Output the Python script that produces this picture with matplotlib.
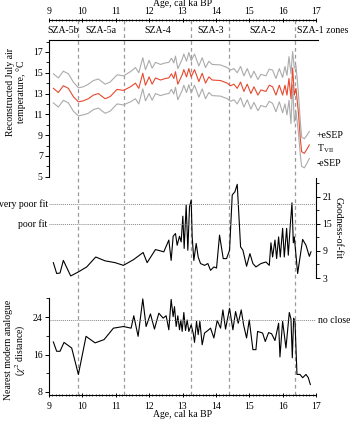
import matplotlib
matplotlib.use('Agg')
import matplotlib.pyplot as plt
from matplotlib.ticker import MultipleLocator
import numpy as np

plt.rcParams['font.family'] = ['Liberation Serif', 'DejaVu Serif']
plt.rcParams['mathtext.fontset'] = 'stix'
plt.rcParams['font.size'] = 7

# zone boundaries (ka BP) and names
zone_edges = [9.86, 11.26, 13.26, 14.40, 16.37]
zone_names = ['SZA-5b', 'SZA-5a', 'SZA-4', 'SZA-3', 'SZA-2']
zone_centres = [9.43, 10.56, 12.26, 13.83, 15.39]

# reconstructed July temperature
t_age = [9.13, 9.28, 9.43, 9.58, 9.73, 9.88, 10.03, 10.18, 10.33, 10.48, 10.68, 10.83,
         11.04, 11.23, 11.44, 11.59, 11.69, 11.81, 11.89, 12.0, 12.09, 12.19, 12.34,
         12.49, 12.59, 12.67, 12.74, 12.79, 12.86, 12.99, 13.04, 13.12, 13.19, 13.26,
         13.36, 13.49, 13.59, 13.69, 13.79, 13.89, 14.14, 14.34, 14.44, 14.54, 14.64,
         14.74, 14.84, 14.94, 15.05, 15.14, 15.26, 15.35, 15.5, 15.6, 15.7, 15.8, 15.9,
         16.0, 16.07, 16.13, 16.19, 16.25, 16.3, 16.35, 16.4, 16.47, 16.53, 16.57,
         16.65, 16.73, 16.8]
t_vii = [13.5, 13.1, 13.75, 13.5, 12.7, 12.2, 12.3, 12.5, 12.85, 13.0, 12.5, 12.7,
         13.4, 13.3, 13.65, 14.0, 13.5, 14.95, 13.8, 14.6, 13.9, 14.5, 14.3,
         14.45, 14.5, 14.9, 14.45, 15.1, 13.9, 14.8, 15.3, 14.6, 15.4, 14.6,
         15.3, 14.15, 14.95, 14.0, 14.6, 14.3, 14.25, 14.0, 13.75, 13.9, 13.5,
         14.1, 13.2, 13.9, 13.0, 13.65, 12.85, 13.35, 13.2, 13.8, 13.65, 12.85, 13.8,
         12.85, 13.8, 12.85, 14.45, 12.5, 15.45, 12.85, 13.5, 11.25, 8.7, 7.4,
         7.25, 7.65, 8.05]
esep = [1.4, 1.4, 1.4, 1.4, 1.4, 1.35, 1.35, 1.4, 1.4, 1.4, 1.4, 1.4,
        1.4, 1.4, 1.45, 1.5, 1.5, 1.5, 1.5, 1.6, 1.55, 1.5, 1.5,
        1.5, 1.5, 1.5, 1.5, 1.5, 1.5, 1.5, 1.5, 1.5, 1.55, 1.55,
        1.5, 1.5, 1.5, 1.5, 1.5, 1.5, 1.5, 1.5, 1.5, 1.5, 1.5,
        1.5, 1.5, 1.5, 1.5, 1.5, 1.5, 1.5, 1.5, 1.55, 1.6, 1.6, 1.6,
        1.7, 1.8, 1.9, 2.1, 2.4, 1.6, 2.6, 2.2, 1.9, 1.6, 1.4,
        1.4, 1.35, 1.3]

# goodness-of-fit
g_age = [9.13, 9.23, 9.33, 9.43, 9.65, 9.88, 10.13, 10.4, 10.68, 10.98, 11.23, 11.54,
         11.82, 11.94, 12.19, 12.44, 12.59, 12.66, 12.72, 12.79, 12.84, 12.91, 12.96,
         13.01, 13.05, 13.11, 13.16, 13.21, 13.26, 13.29, 13.34, 13.41, 13.47, 13.54,
         13.66, 13.76, 13.84, 13.94, 14.02, 14.11, 14.22, 14.32, 14.41, 14.49, 14.57,
         14.64, 14.74, 14.81, 14.92, 15.02, 15.11, 15.2, 15.35, 15.5, 15.6, 15.65,
         15.7, 15.77, 15.82, 15.88, 15.93, 16.0, 16.05, 16.12, 16.17, 16.23, 16.28,
         16.32, 16.35, 16.45, 16.6, 16.7, 16.8, 16.85]
gof = [6.4, 4.0, 4.1, 6.9, 3.45, 4.35, 5.45, 7.65, 6.8, 6.4, 5.8, 7.1,
       8.65, 6.4, 9.3, 8.8, 11.4, 6.9, 12.25, 12.85, 10.25, 12.25, 11.0,
       16.7, 9.55, 19.15, 9.15, 18.8, 20.25, 12.1, 6.9, 10.65, 7.65, 6.2,
       5.8, 6.2, 4.7, 5.45, 5.2, 12.5, 7.3, 7.3, 9.15, 21.4, 22.1,
       23.75, 9.9, 9.15, 5.6, 8.4, 6.2, 5.45, 6.2, 6.55, 5.8, 10.8,
       7.65, 11.4, 7.3, 12.1, 7.65, 14.0, 7.65, 14.0, 8.05, 14.7, 19.65,
       10.8, 12.1, 4.0, 11.55, 10.25, 7.8, 8.8]
poor_fit = 15.0
very_poor_fit = 19.4

# nearest modern analogue
n_age = [9.13, 9.23, 9.33, 9.45, 9.68, 9.88, 10.11, 10.38, 10.65, 10.93, 11.23, 11.46,
         11.54, 11.67, 11.81, 11.91, 12.04, 12.16, 12.29, 12.42, 12.51, 12.59, 12.66,
         12.72, 12.76, 12.81, 12.86, 12.91, 12.95, 12.99, 13.04, 13.09, 13.14, 13.19,
         13.26, 13.32, 13.36, 13.42, 13.47, 13.52, 13.59, 13.66, 13.76, 13.84, 13.94,
         14.04, 14.14, 14.21, 14.29, 14.41, 14.51, 14.59, 14.67, 14.76, 14.83, 14.92,
         15.0, 15.11, 15.2, 15.25, 15.4, 15.48, 15.58, 15.67, 15.77, 15.88, 15.92,
         16.0, 16.1, 16.2, 16.25, 16.29, 16.33, 16.37, 16.43, 16.52, 16.6, 16.7,
         16.77, 16.83]
nma = [18.7, 16.7, 16.7, 18.6, 17.4, 11.75, 19.9, 18.5, 19.2, 21.65, 22.0, 21.65,
       24.3, 19.9, 27.9, 22.0, 24.7, 21.45, 24.85, 23.8, 24.3, 21.3, 27.8,
       24.1, 26.25, 22.0, 24.3, 21.3, 23.4, 20.95, 25.0, 21.15, 23.4, 20.95,
       22.35, 20.6, 18.6, 23.1, 20.25, 23.1, 18.1, 20.6, 21.15, 21.65, 19.55,
       23.3, 21.65, 25.55, 21.45, 25.9, 21.3, 25.2, 22.7, 25.55, 22.35, 19.55,
       23.4, 17.05, 17.05, 20.95, 20.6, 18.8, 20.7, 20.45, 19.0, 22.7, 15.5,
       23.1, 17.4, 25.0, 23.6, 15.3, 23.8, 23.1, 11.75, 11.75, 11.05, 11.75,
       11.05, 9.6]
no_close = 23.35

W, H = 350, 423
fig = plt.figure(figsize=(W / 100, H / 100), dpi=100)

def box(top_px, bot_px, left_px=49, right_px=316):
    return [left_px / W, 1 - bot_px / H, (right_px - left_px) / W, (bot_px - top_px) / H]

xlim = (9, 17)
fs = 7

# dashed zone boundaries across the whole figure
axz = fig.add_axes(box(20, 395), zorder=0)
axz.set_xlim(*xlim)
axz.axis('off')
for e in zone_edges:
    axz.axvline(e, color='#9a9a9a', lw=0.9, ls=(0, (3, 2.5)))

red = '#e8492f'
grey = '#ababab'

# top panel: temperature
ax1 = fig.add_axes(box(40, 177))
ax1.patch.set_alpha(0)
ta = np.array(t_age)
tv = np.array(t_vii)
es = np.array(esep)
ax1.plot(ta, tv + es, color=grey, lw=0.8)
ax1.plot(ta, tv - es, color=grey, lw=0.8)
ax1.plot(ta, tv, color=red, lw=0.8)
ax1.set_xlim(*xlim)
ax1.set_ylim(4.97, 18.15)
for s in ['right', 'bottom']:
    ax1.spines[s].set_visible(False)
ax1.spines['top'].set_bounds(9, 17.05)
ax1.set_xticks([])
ax1.set_yticks([5, 7, 9, 11, 13, 15, 17])
ax1.yaxis.set_minor_locator(MultipleLocator(1))
ax1.tick_params(axis='y', which='major', length=3, width=0.7, pad=1.5, labelsize=fs)
ax1.tick_params(axis='y', which='minor', length=2, width=0.6)
for n, c in zip(zone_names, zone_centres):
    ax1.text(c, 1.07, n, transform=ax1.get_xaxis_transform(), ha='center', va='center', fontsize=fs)
ax1.text(16.42, 1.07, 'SZA-1 zones', transform=ax1.get_xaxis_transform(), ha='left', va='center', fontsize=fs)
ax1.text(17.03, 9.0, '+eSEP', ha='left', va='center', fontsize=fs)
ax1.text(17.03, 7.65, r'T$_{\mathregular{VII}}$', ha='left', va='center', fontsize=fs)
ax1.text(17.03, 6.3, '-eSEP', ha='left', va='center', fontsize=fs)
fig.text(16 / W, 1 - 92 / H, 'Reconstructed July air\ntemperature, \u00b0C', rotation=90,
         ha='center', va='center', fontsize=fs, linespacing=1.05)

# top age axis
axt = fig.add_axes([49 / W, 1 - 20 / H, 267 / W, 0.001])
axt.patch.set_alpha(0)
axt.set_xlim(*xlim)
axt.set_yticks([])
for s in ['left', 'right', 'bottom']:
    axt.spines[s].set_visible(False)
axt.xaxis.tick_top()
axt.xaxis.set_label_position('top')
axt.set_xticks(range(9, 18))
axt.xaxis.set_minor_locator(MultipleLocator(0.1))
axt.tick_params(axis='x', which='major', direction='inout', length=3, width=0.7, pad=1, labelsize=fs)
axt.tick_params(axis='x', which='minor', direction='inout', length=2, width=0.5)
axt.set_xlabel('Age, cal ka BP', fontsize=fs, labelpad=0.5)

# middle panel: goodness of fit
ax2 = fig.add_axes(box(178, 278))
ax2.patch.set_alpha(0)
ax2.plot(g_age, gof, color='black', lw=0.8)
ax2.axhline(poor_fit, color='#888888', lw=0.7, ls=(0, (1, 1)))
ax2.axhline(very_poor_fit, color='#888888', lw=0.7, ls=(0, (1, 1)))
ax2.set_xlim(*xlim)
ax2.set_ylim(3, 25.15)
for s in ['left', 'top', 'bottom']:
    ax2.spines[s].set_visible(False)
ax2.set_xticks([])
ax2.yaxis.tick_right()
ax2.set_yticks([3, 9, 15, 21])
ax2.yaxis.set_minor_locator(MultipleLocator(3))
ax2.tick_params(axis='y', which='major', length=3, width=0.7, pad=1.5, labelsize=fs)
ax2.tick_params(axis='y', which='minor', length=2, width=0.6)
ax2.text(-0.005, very_poor_fit, 'very poor fit', transform=ax2.get_yaxis_transform(),
         ha='right', va='center', fontsize=fs)
ax2.text(-0.005, poor_fit, 'poor fit', transform=ax2.get_yaxis_transform(),
         ha='right', va='center', fontsize=fs)
ax2.yaxis.set_label_position('right')
ax2.set_ylabel('Goodness-of-fit', rotation=-90, fontsize=fs, labelpad=8)

# bottom panel: nearest modern analogue
ax3 = fig.add_axes(box(298, 395))
ax3.patch.set_alpha(0)
ax3.plot(n_age, nma, color='black', lw=0.8)
ax3.axhline(no_close, color='#888888', lw=0.7, ls=(0, (1, 1)))
ax3.set_xlim(*xlim)
ax3.set_ylim(7.35, 28.1)
for s in ['right', 'top']:
    ax3.spines[s].set_visible(False)
ax3.set_yticks([8, 16, 24])
ax3.yaxis.set_minor_locator(MultipleLocator(4))
ax3.set_xticks(range(9, 18))
ax3.xaxis.set_minor_locator(MultipleLocator(0.1))
ax3.tick_params(axis='y', which='major', length=3, width=0.7, pad=1.5, labelsize=fs)
ax3.tick_params(axis='y', which='minor', length=2, width=0.6)
ax3.tick_params(axis='x', which='major', direction='inout', length=3, width=0.7, pad=3.5, labelsize=fs)
ax3.tick_params(axis='x', which='minor', direction='inout', length=2, width=0.5)
ax3.set_xlabel('Age, cal ka BP', fontsize=fs, labelpad=-0.5)
ax3.text(1.007, no_close, 'no close', transform=ax3.get_yaxis_transform(),
         ha='left', va='center', fontsize=fs)
fig.text(16 / W, 1 - 350 / H, 'Nearest modern analogue\n($\\chi^2$ distance)', rotation=90,
         ha='center', va='center', fontsize=fs, linespacing=1.05)

fig.savefig('out.png', dpi=100)
